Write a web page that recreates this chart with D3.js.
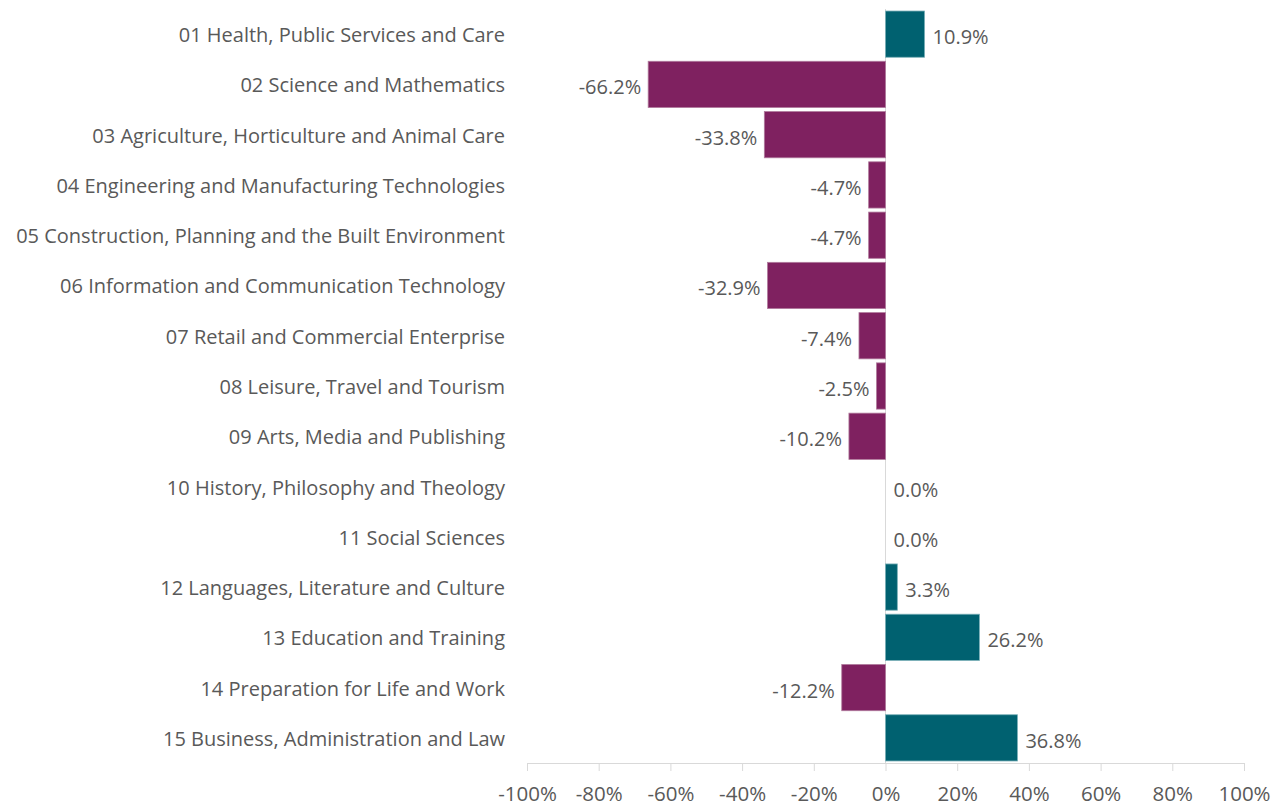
<!DOCTYPE html>
<html>
<head>
<meta charset="utf-8">
<script src="https://cdn.jsdelivr.net/npm/d3@7"></script>
<style>
  body { margin: 0; background: #fff; }
  text { font-family: "Open Sans", "Noto Sans", sans-serif; fill: #595959; }
</style>
</head>
<body>
<div id="chart"></div>
<script>
// categories, top to bottom
var categories = [
  "01 Health, Public Services and Care",
  "02 Science and Mathematics",
  "03 Agriculture, Horticulture and Animal Care",
  "04 Engineering and Manufacturing Technologies",
  "05 Construction, Planning and the Built Environment",
  "06 Information and Communication Technology",
  "07 Retail and Commercial Enterprise",
  "08 Leisure, Travel and Tourism",
  "09 Arts, Media and Publishing",
  "10 History, Philosophy and Theology",
  "11 Social Sciences",
  "12 Languages, Literature and Culture",
  "13 Education and Training",
  "14 Preparation for Life and Work",
  "15 Business, Administration and Law"
];
// percentage change
var values = [10.9, -66.2, -33.8, -4.7, -4.7, -32.9, -7.4, -2.5, -10.2, 0.0, 0.0, 3.3, 26.2, -12.2, 36.8];
var tickValues = [-100, -80, -60, -40, -20, 0, 20, 40, 60, 80, 100];

var data = categories.map(function (c, i) { return { name: c, value: values[i] }; });

var width = 1284, height = 806;

var svg = d3.select("#chart")
  .append("svg")
  .attr("width", width)
  .attr("height", height);

var x = d3.scaleLinear().domain([-100, 100]).range([527, 1244]);
var y = d3.scaleBand().domain(categories).range([9, 763]).paddingInner(0.08).paddingOuter(0.04);

// x axis
var xAxis = svg.append("g")
  .attr("transform", "translate(0,763)")
  .call(d3.axisBottom(x).tickValues(tickValues).tickSize(8).tickPadding(15)
    .tickFormat(function (d) { return d + "%"; }));
xAxis.select(".domain").attr("stroke", "#d9d9d9");
xAxis.selectAll(".tick line").attr("stroke", "#d9d9d9");
xAxis.selectAll(".tick text")
  .style("font-size", "20.5px")
  .attr("fill", "#595959");

// zero line
svg.append("line")
  .attr("x1", x(0)).attr("x2", x(0))
  .attr("y1", 9).attr("y2", 763)
  .attr("stroke", "#d9d9d9");

// bars
svg.selectAll("rect.bar")
  .data(data)
  .enter()
  .append("rect")
  .attr("class", "bar")
  .attr("x", function (d) { return x(Math.min(0, d.value)); })
  .attr("y", function (d) { return y(d.name); })
  .attr("width", function (d) { return Math.abs(x(d.value) - x(0)); })
  .attr("height", y.bandwidth())
  .attr("fill", function (d) { return d.value < 0 ? "#7f2160" : "#006170"; })
  .attr("stroke", function (d) { return d.value < 0 ? "#b07a9c" : "#7ab0b8"; })
  .attr("stroke-width", function (d) { return d.value === 0 ? 0 : 0.8; });

// category labels
svg.selectAll("text.cat")
  .data(data)
  .enter()
  .append("text")
  .attr("class", "cat")
  .attr("x", 505)
  .attr("y", function (d) { return y(d.name) + y.bandwidth() / 2 + 1; })
  .attr("dy", "0.35em")
  .attr("text-anchor", "end")
  .style("font-size", "20px")
  .text(function (d) { return d.name; });

// value labels
svg.selectAll("text.val")
  .data(data)
  .enter()
  .append("text")
  .attr("class", "val")
  .attr("x", function (d) { return d.value < 0 ? x(d.value) - 7 : x(d.value) + 8; })
  .attr("y", function (d) { return y(d.name) + y.bandwidth() / 2 + 3; })
  .attr("dy", "0.35em")
  .attr("text-anchor", function (d) { return d.value < 0 ? "end" : "start"; })
  .style("font-size", "20px")
  .text(function (d) { return d.value.toFixed(1) + "%"; });
</script>
</body>
</html>
